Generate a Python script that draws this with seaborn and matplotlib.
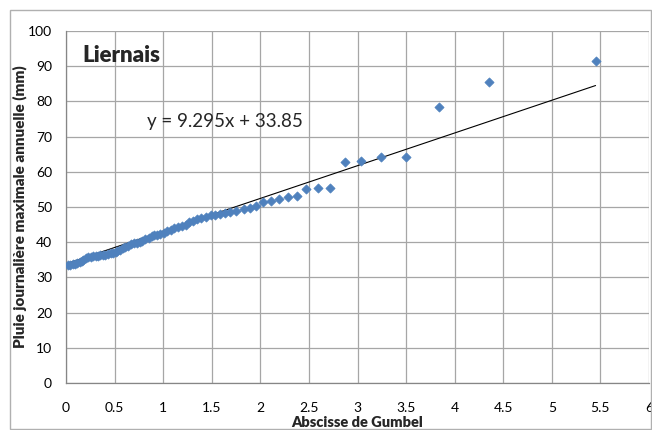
import numpy as np
import pandas as pd
import matplotlib
matplotlib.use("Agg")
import matplotlib.pyplot as plt
from matplotlib.patches import Rectangle
import seaborn as sns

# Gumbel reduced variate (x) and annual maximum daily rainfall (mm)
gumbel_x = [0.02, 0.04, 0.07, 0.09, 0.11, 0.14, 0.16, 0.18, 0.21, 0.23,
            0.26, 0.28, 0.31, 0.33, 0.35, 0.38, 0.40, 0.43, 0.46, 0.48,
            0.51, 0.53, 0.56, 0.59, 0.61, 0.64, 0.67, 0.70, 0.73, 0.76,
            0.78, 0.81, 0.85, 0.88, 0.91, 0.94, 0.97, 1.01, 1.04, 1.08,
            1.11, 1.15, 1.19, 1.23, 1.27, 1.31, 1.35, 1.39, 1.44, 1.49,
            1.53, 1.58, 1.64, 1.69, 1.75, 1.83, 1.89, 1.96, 2.03, 2.11,
            2.19, 2.28, 2.38, 2.47, 2.59, 2.72, 2.87, 3.04, 3.24, 3.50,
            3.84, 4.35, 5.45]
rain_mm = [33.4, 33.5, 33.7, 33.9, 34.1, 34.3, 34.6, 34.9, 35.6, 35.7,
           35.8, 36.0, 36.1, 36.2, 36.3, 36.4, 36.5, 36.6, 36.8, 37.0,
           37.3, 37.6, 37.9, 38.3, 38.6, 39.0, 39.4, 39.7, 39.9, 40.1,
           40.4, 40.8, 41.3, 41.7, 42.0, 42.1, 42.3, 42.6, 43.1, 43.5,
           43.9, 44.3, 44.6, 44.9, 45.6, 46.0, 46.6, 47.0, 47.3, 47.6,
           47.8, 48.0, 48.4, 48.7, 49.0, 49.3, 49.6, 50.4, 51.4, 51.6,
           52.3, 52.7, 53.1, 55.1, 55.3, 55.3, 62.9, 63.1, 64.1, 64.3,
           78.4, 85.5, 91.5]

# trend line shown on the chart
slope = 9.295
intercept = 33.85

df = pd.DataFrame({"x": gumbel_x, "y": rain_mm})

sns.set_style("whitegrid")
plt.rcParams["font.family"] = ["Lato", "DejaVu Sans"]

fig = plt.figure(figsize=(6.52, 4.30), dpi=100)
ax = fig.add_axes([66 / 652, 1 - 383 / 430, (649 - 66) / 652, (383 - 31) / 430])

# outer chart border (Excel style)
fig.patches.append(Rectangle((10 / 652, 1 / 430), 641 / 652, 419 / 430,
                             transform=fig.transFigure, fill=False,
                             edgecolor="#b0b0b0", linewidth=1))

sns.scatterplot(data=df, x="x", y="y", ax=ax, marker="D", s=22,
                color="#4f81bd", edgecolor="#4f81bd", linewidth=0.5, zorder=3)

xl = np.array([0, max(gumbel_x)])
ax.plot(xl, slope * xl + intercept, color="black", linewidth=0.8, zorder=2)

ax.set_xlim(0, 6)
ax.set_ylim(0, 100)
ax.set_xticks(np.arange(0, 6.01, 0.5))
ax.set_xticklabels(["0", "0.5", "1", "1.5", "2", "2.5", "3", "3.5", "4", "4.5", "5", "5.5", "6"])
ax.set_yticks(np.arange(0, 101, 10))
ax.grid(True, color="#a6a6a6", linewidth=0.9)

for side in ["top", "right"]:
    ax.spines[side].set_visible(False)
for side in ["left", "bottom"]:
    ax.spines[side].set_color("#868686")
    ax.spines[side].set_linewidth(0.9)

ax.tick_params(axis="both", labelsize=10, colors="black", length=4,
               width=0.8, direction="out", color="#868686")
ax.tick_params(axis="x", pad=10)
ax.tick_params(axis="y", pad=6)

ax.set_xlabel("Abscisse de Gumbel", fontsize=10.5, fontweight="heavy", labelpad=1)
ax.set_ylabel("Pluie journalière maximale annuelle (mm)", fontsize=11,
              fontweight="heavy", labelpad=1)

ax.text(0.17, 93, "Liernais", fontsize=16, fontweight="heavy", va="center", ha="left")
ax.text(0.83, 74.4, f"y = {slope}x + {intercept}", fontsize=13.5, va="center", ha="left")

fig.savefig("out.png", dpi=100)
